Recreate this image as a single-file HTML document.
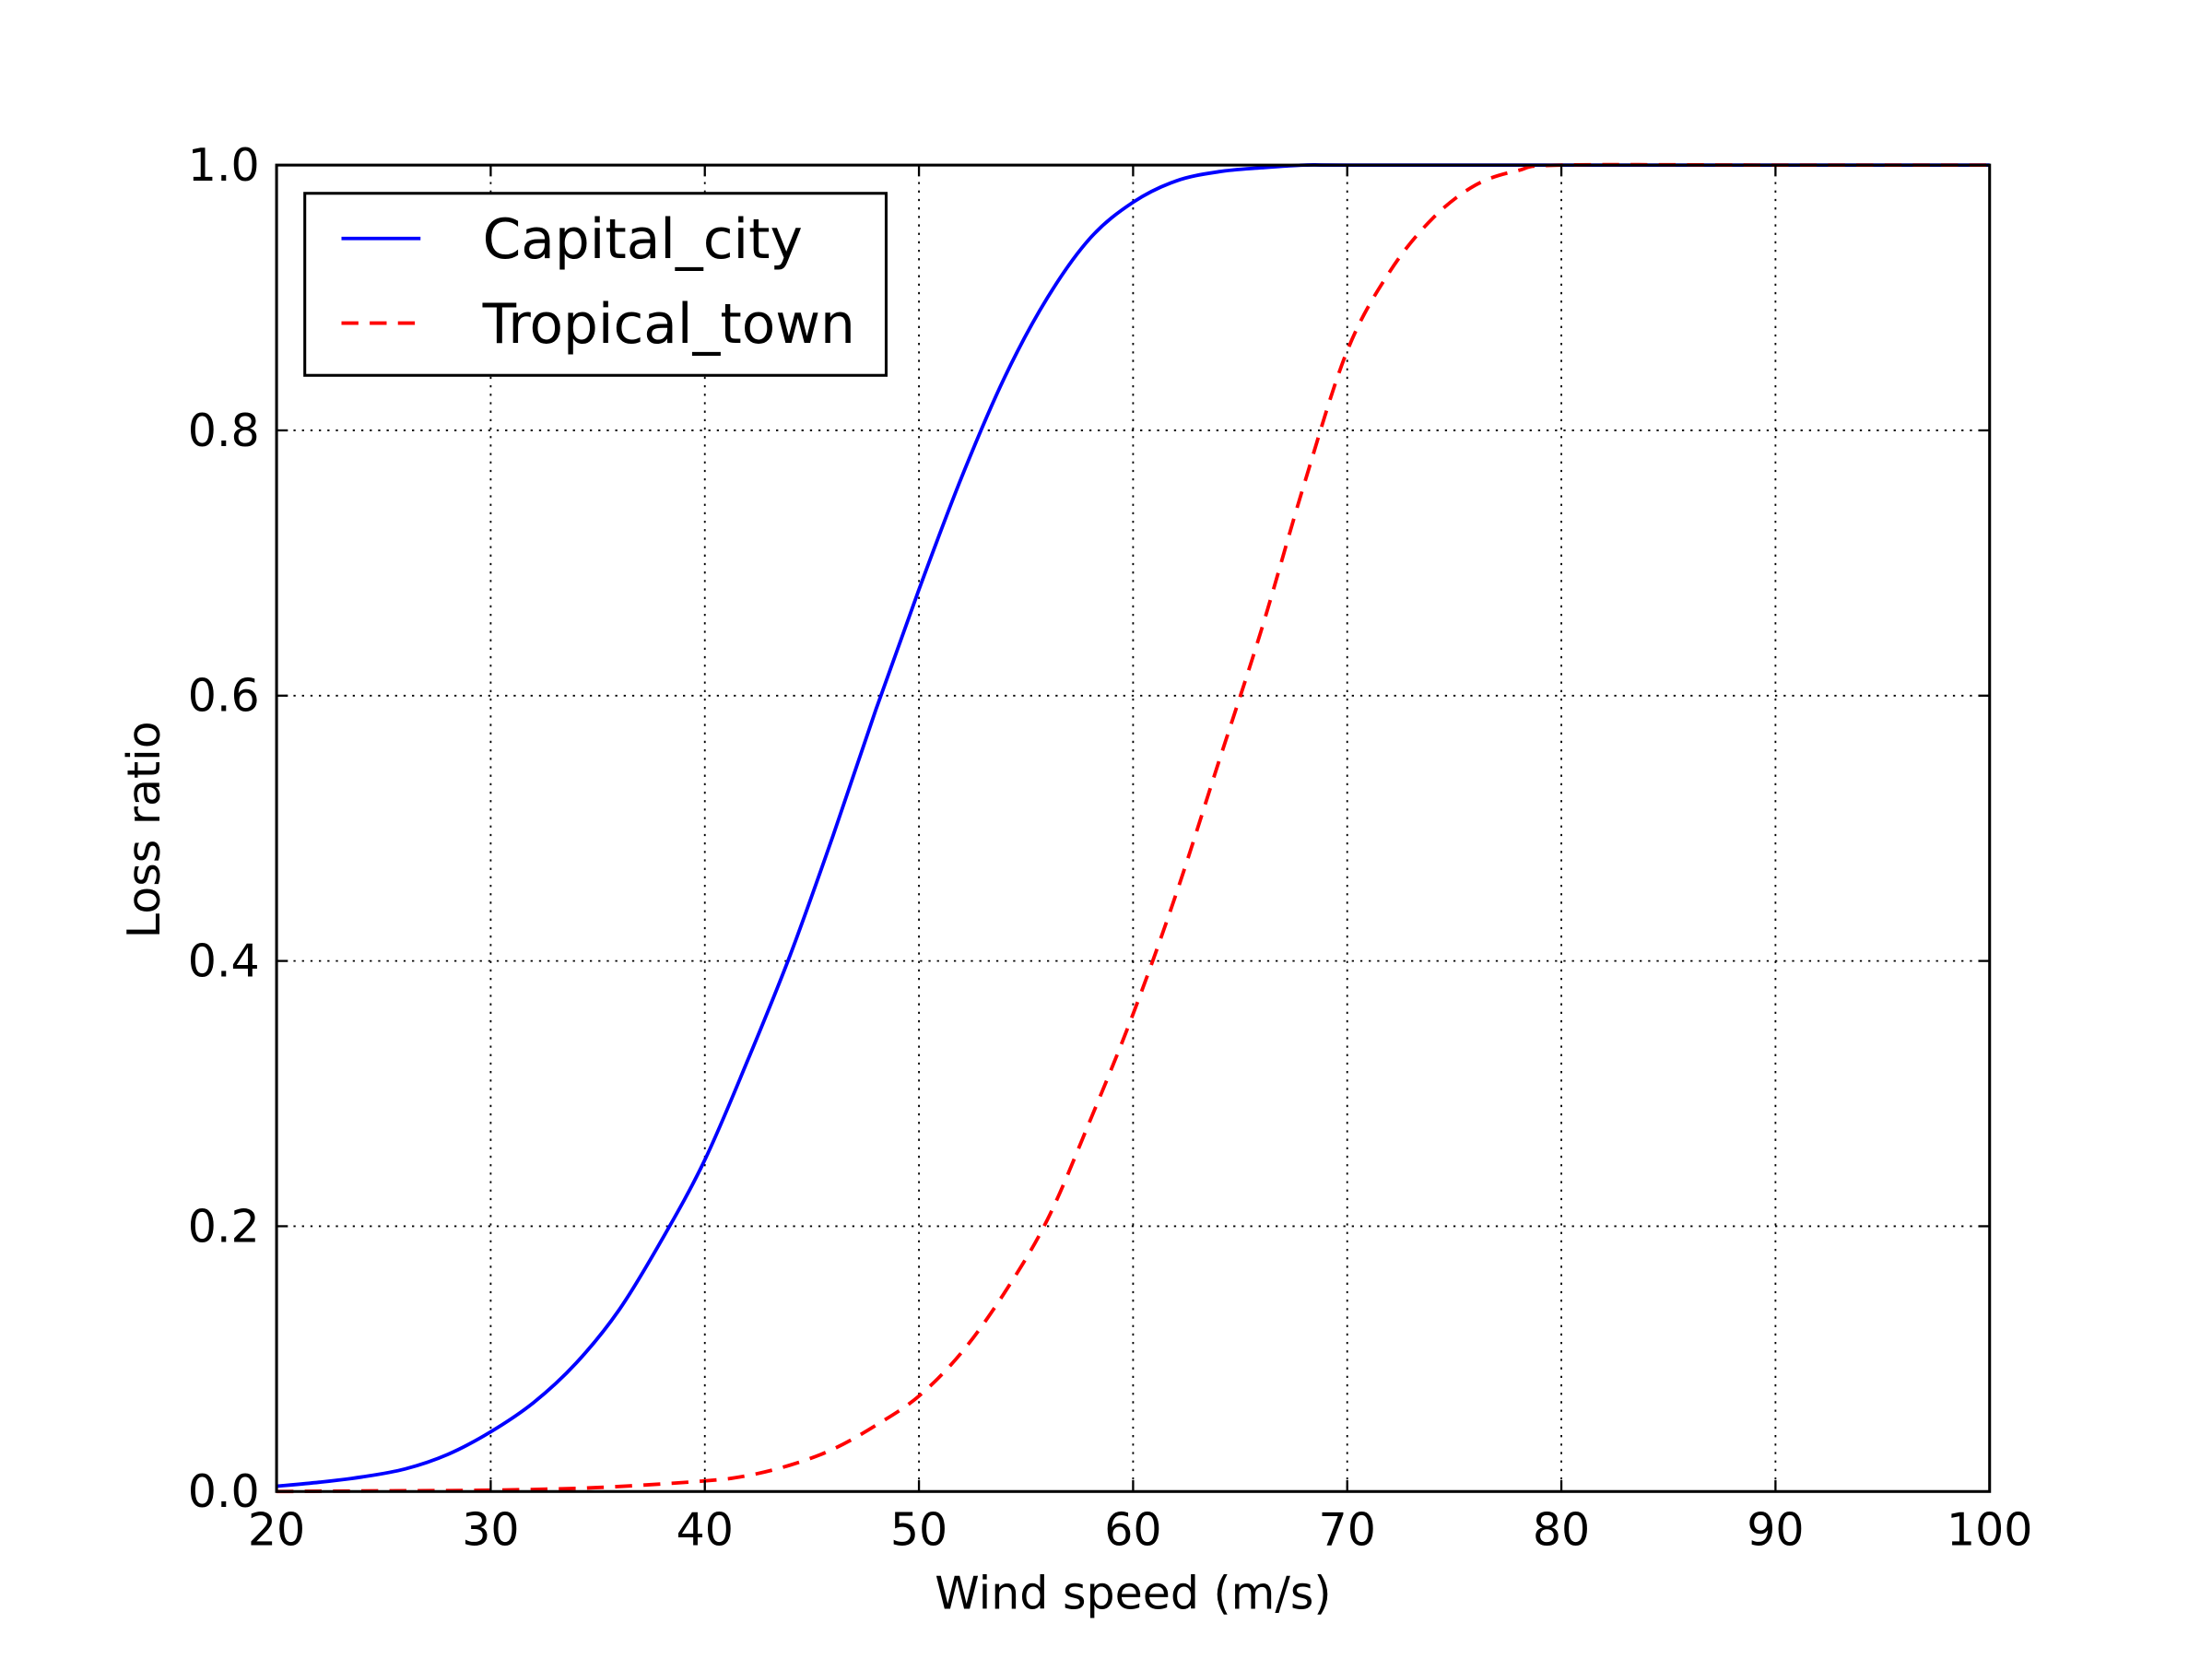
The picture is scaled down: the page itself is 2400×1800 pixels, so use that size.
<!DOCTYPE html>
<html><head><meta charset="utf-8"><style>
html,body{margin:0;padding:0;background:#fff;}
svg{display:block;}
text{font-family:"DejaVu Sans","Liberation Sans",sans-serif;fill:#000;}
</style></head><body>
<svg id="chart" width="2400" height="1800" viewBox="0 0 1567.6 1175.7" preserveAspectRatio="none" xmlns="http://www.w3.org/2000/svg">
<rect width="1567.6" height="1175.7" fill="#fff"/>
<g id="grid"></g>
<g id="series"></g>
<rect x="196" y="117" width="1214" height="940" fill="none" stroke="#000" stroke-width="2"/>
<g id="ticks"></g>
<text x="803" y="1140" font-size="32" text-anchor="middle">Wind speed (m/s)</text>
<text transform="translate(113,588) rotate(-90)" font-size="32" text-anchor="middle">Loss ratio</text>
<g>
<rect x="216" y="137" width="412" height="129" fill="#fff" stroke="#000" stroke-width="2"/>
<line x1="242" y1="169" x2="298" y2="169" stroke="#0000ff" stroke-width="2.5"/>
<text x="342" y="183" font-size="39">Capital_city</text>
<line x1="242" y1="229" x2="298" y2="229" stroke="#ff0000" stroke-width="2.5" stroke-dasharray="12,8"/>
<text x="342" y="243" font-size="39">Tropical_town</text>
</g>
</svg>
<script>
const capitalX = [20,22,24,26,28,30,32,34,36,38,40,42,44,46,48,50,52,54,56,58,60,62,64,66,68,70,80,90,100];
const capitalY = [0.004,0.007,0.011,0.017,0.028,0.045,0.067,0.097,0.137,0.19,0.25,0.325,0.405,0.495,0.59,0.68,0.765,0.84,0.90,0.945,0.972,0.988,0.995,0.998,1,1,1,1,1];
const tropicalX = [20,25,30,35,40,42,44,46,48,50,52,54,56,58,60,62,64,66,68,70,72,74,76,78,80,90,100];
const tropicalY = [0,0.0005,0.001,0.003,0.008,0.012,0.02,0.032,0.05,0.072,0.105,0.15,0.205,0.28,0.36,0.45,0.55,0.65,0.76,0.86,0.92,0.96,0.985,0.996,1,1,1];
const xTicks = [20,30,40,50,60,70,80,90,100];
const yTicks = [0,0.2,0.4,0.6,0.8,1.0];
const yTickLabels = ["0.0","0.2","0.4","0.6","0.8","1.0"];

const NS = "http://www.w3.org/2000/svg";
const L=196,R=1410,T=117,B=1057;
function sx(v){return L+(v-20)/80*(R-L);}
function sy(v){return B-v*(B-T);}
function mk(tag,attrs,parent){const e=document.createElementNS(NS,tag);for(const k in attrs)e.setAttribute(k,attrs[k]);parent.appendChild(e);return e;}
const grid=document.getElementById('grid'),ticks=document.getElementById('ticks'),series=document.getElementById('series');
xTicks.forEach(function(v){
  const x=sx(v);
  const g=mk('line',{x1:x,y1:T,x2:x,y2:B,stroke:'#000','stroke-width':1.2,'stroke-dasharray':'1.5,4.5'},grid);
  
  
  const t1=mk('line',{x1:x,y1:B,x2:x,y2:B-8,stroke:'#000','stroke-width':1.5},ticks);
  
  
  const t2=mk('line',{x1:x,y1:T,x2:x,y2:T+8,stroke:'#000','stroke-width':1.5},ticks);
  
  
  const lb=mk('text',{x:x,y:1095,'font-size':32,'text-anchor':'middle'},ticks);
  lb.textContent=String(v);
  
  
});
yTicks.forEach(function(v,i){
  const y=sy(v);
  const g=mk('line',{x1:L,y1:y,x2:R,y2:y,stroke:'#000','stroke-width':1.2,'stroke-dasharray':'1.5,4.5'},grid);
  
  
  const t1=mk('line',{x1:L,y1:y,x2:L+8,y2:y,stroke:'#000','stroke-width':1.5},ticks);
  
  
  const t2=mk('line',{x1:R,y1:y,x2:R-8,y2:y,stroke:'#000','stroke-width':1.5},ticks);
  
  
  const lb=mk('text',{x:184,y:y+11,'font-size':32,'text-anchor':'end'},ticks);
  lb.textContent=yTickLabels[i];
  
  
});
function smoothPath(xs,ys){
  const p=xs.map(function(x,i){return [sx(x),sy(ys[i])];});
  let d='M'+p[0][0].toFixed(2)+','+p[0][1].toFixed(2);
  for(let i=0;i<p.length-1;i++){
    const p0=p[Math.max(0,i-1)],p1=p[i],p2=p[i+1],p3=p[Math.min(p.length-1,i+2)];
    const c1x=p1[0]+(p2[0]-p0[0])/6,c1y=p1[1]+(p2[1]-p0[1])/6;
    const c2x=p2[0]-(p3[0]-p1[0])/6,c2y=p2[1]-(p3[1]-p1[1])/6;
    d+=' C'+c1x.toFixed(2)+','+c1y.toFixed(2)+' '+c2x.toFixed(2)+','+c2y.toFixed(2)+' '+p2[0].toFixed(2)+','+p2[1].toFixed(2);
  }
  return d;
}
const p1=mk('path',{d:smoothPath(capitalX,capitalY),fill:'none',stroke:'#0000ff','stroke-width':2.5,'stroke-linejoin':'round'},series);


const p2=mk('path',{d:smoothPath(tropicalX,tropicalY),fill:'none',stroke:'#ff0000','stroke-width':2.5,'stroke-dasharray':'12,8'},series);


</script>
</body></html>
